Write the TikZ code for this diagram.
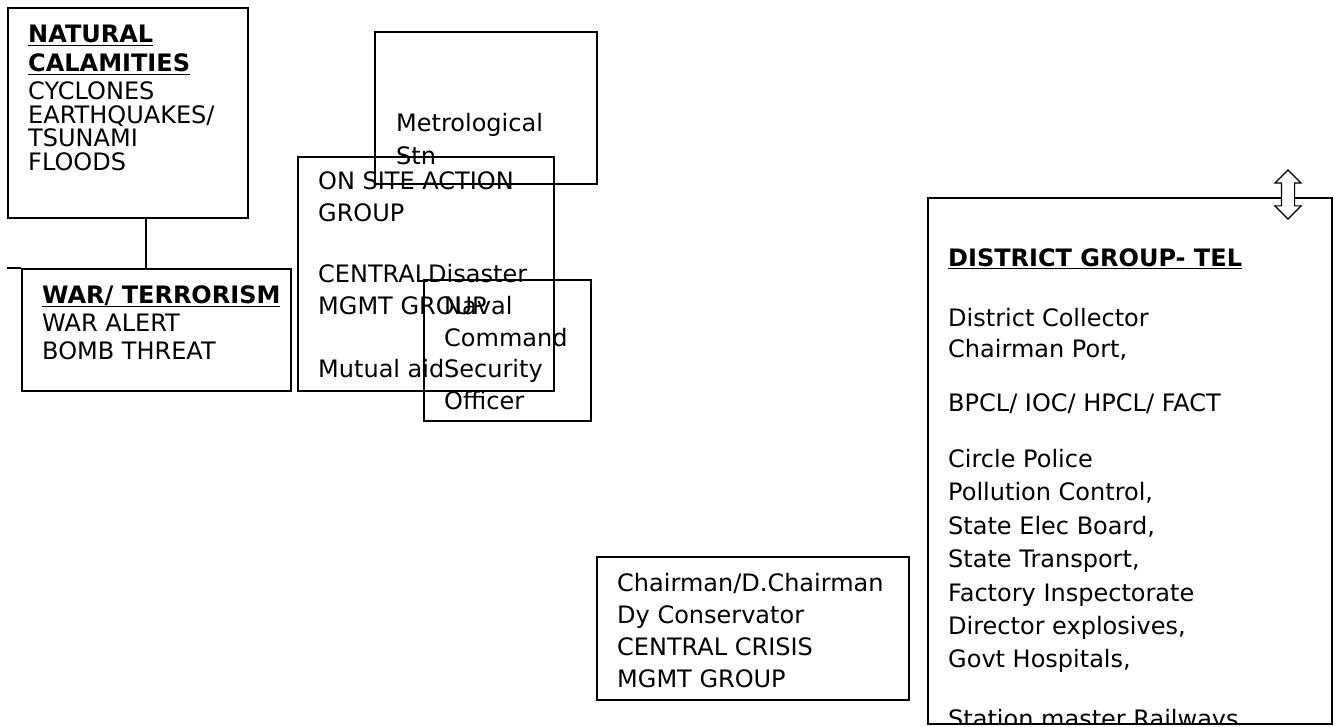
\documentclass[tikz,border=0pt]{standalone}
\usepackage{fontspec}
\setmainfont{DejaVu Sans}
\usetikzlibrary{shapes.arrows}
\begin{document}
\begin{tikzpicture}[x=1pt,y=-1pt,
  box/.style={draw, line width=1.6pt, anchor=north west, inner sep=0pt},
  txt/.style={anchor=base west, inner sep=0pt, font=\fontsize{24}{29}\selectfont},
  conn/.style={line width=1.6pt}]
\useasboundingbox (0,0) rectangle (1335,727);
% boxes
\node[box, minimum width=240pt, minimum height=210pt] (nat) at (7,7) {};
\node[box, minimum width=269pt, minimum height=122pt] (war) at (21,268) {};
\node[box, minimum width=222pt, minimum height=152pt] (met) at (374,31) {};
\node[box, minimum width=256pt, minimum height=234pt] (ons) at (297,156) {};
\node[box, minimum width=167pt, minimum height=141pt] (nav) at (423,279) {};
\node[box, minimum width=312pt, minimum height=143pt] (chm) at (596,556) {};
\node[box, minimum width=404pt, minimum height=526pt] (dis) at (927,197) {};
% connectors
\coordinate (j) at (146,268);
\coordinate (lt) at (7,268);
\draw[conn] (nat.south -| j) -- (j);
\draw[conn] (lt) -- (war.north west);
% double arrow
\node[double arrow, draw, fill=white, line width=1.1pt, rotate=90, inner sep=6pt,
      double arrow head extend=6.5pt, minimum height=49pt] (arr) at (1288,194.5) {};
% texts box 1
\node[txt] (n1) at (28,43) {\textbf{\underline{NATURAL}}};
\node[txt] (n2) at (28,72) {\textbf{\underline{CALAMITIES}}};
\node[txt] (n3) at (28,100) {CYCLONES};
\node[txt] (n4) at (28,124) {EARTHQUAKES/};
\node[txt] (n5) at (28,147) {TSUNAMI};
\node[txt] (n6) at (28,171) {FLOODS};
% box 2
\node[txt] (w1) at (42,303) {\textbf{\underline{WAR/ TERRORISM}}};
\node[txt] (w2) at (42,331) {WAR ALERT};
\node[txt] (w3) at (42,359) {BOMB THREAT};
% metrological
\node[txt] (m1) at (396,132) {Metrological};
\node[txt] (m2) at (396,165) {Stn};
% on site
\node[txt] (o1) at (318,190) {ON SITE ACTION};
\node[txt] (o2) at (318,222) {GROUP};
\node[txt] (o3) at (318,282) {CENTRALDisaster};
\node[txt] (o4) at (318,314) {MGMT GROUP};
\node[txt] (o5) at (318,377) {Mutual aid};
% naval
\node[txt] (v1) at (444,314) {Naval};
\node[txt] (v2) at (444,346) {Command};
\node[txt] (v3) at (444,377) {Security};
\node[txt] (v4) at (444,409) {Officer};
% chairman
\node[txt] (c1) at (617,591) {Chairman/D.Chairman};
\node[txt] (c2) at (617,623) {Dy Conservator};
\node[txt] (c3) at (617,655) {CENTRAL CRISIS};
\node[txt] (c4) at (617,687) {MGMT GROUP};
% district
\node[txt] (d0) at (948,266) {\textbf{\underline{DISTRICT GROUP- TEL}}};
\node[txt] (d1) at (948,326) {District Collector};
\node[txt] (d2) at (948,357) {Chairman Port,};
\node[txt] (d3) at (948,411) {BPCL/ IOC/ HPCL/ FACT};
\node[txt] (d4) at (948,467) {Circle Police};
\node[txt] (d5) at (948,500) {Pollution Control,};
\node[txt] (d6) at (948,534) {State Elec Board,};
\node[txt] (d7) at (948,567) {State Transport,};
\node[txt] (d8) at (948,601) {Factory Inspectorate};
\node[txt] (d9) at (948,634) {Director explosives,};
\node[txt] (d10) at (948,667) {Govt Hospitals,};
\begin{scope}
\clip (927,197) rectangle (1331,722);
\node[txt] (d11) at (948,727) {Station master Railways};
\end{scope}
\end{tikzpicture}
\end{document}
